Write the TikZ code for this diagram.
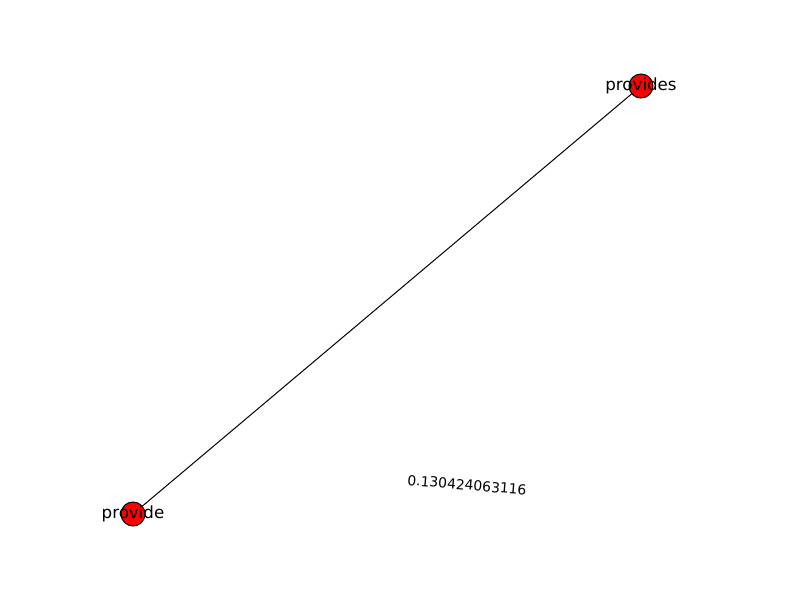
\documentclass[tikz,border=0pt]{standalone}
\usepackage{fontspec}
\setmainfont{DejaVu Sans}
\usetikzlibrary{positioning, backgrounds}
\tikzstyle{vertex} = [
circle,
minimum size=17.3pt,
inner sep=0pt,
fill=red,
draw,
line width=0.72pt
]
\tikzstyle{vlabel} = [
font=\fontsize{12pt}{14pt}\selectfont,
inner sep=0pt
]
\tikzstyle{elabel} = [
font=\fontsize{10pt}{12pt}\selectfont,
inner sep=0pt
]
\tikzstyle{edge}=[line width=0.72pt]

\begin{document}
\begin{tikzpicture}[x=0.72pt, y=-0.72pt]
        \useasboundingbox (0,0) rectangle (800,600);

        \node(provides)[vertex] at (641,86) {};

        \node(provide)[vertex] at (133,514) {};

        \draw[edge] (provide)--(provides);

        \node(providesText)[vlabel] at (641,86) {provides};

        \node(provideText)[vlabel] at (133,514) {provide};

        \node(weight)[elabel, rotate=-4.8] at (467,485) {0.130424063116};

        \end{tikzpicture}
\end{document}
